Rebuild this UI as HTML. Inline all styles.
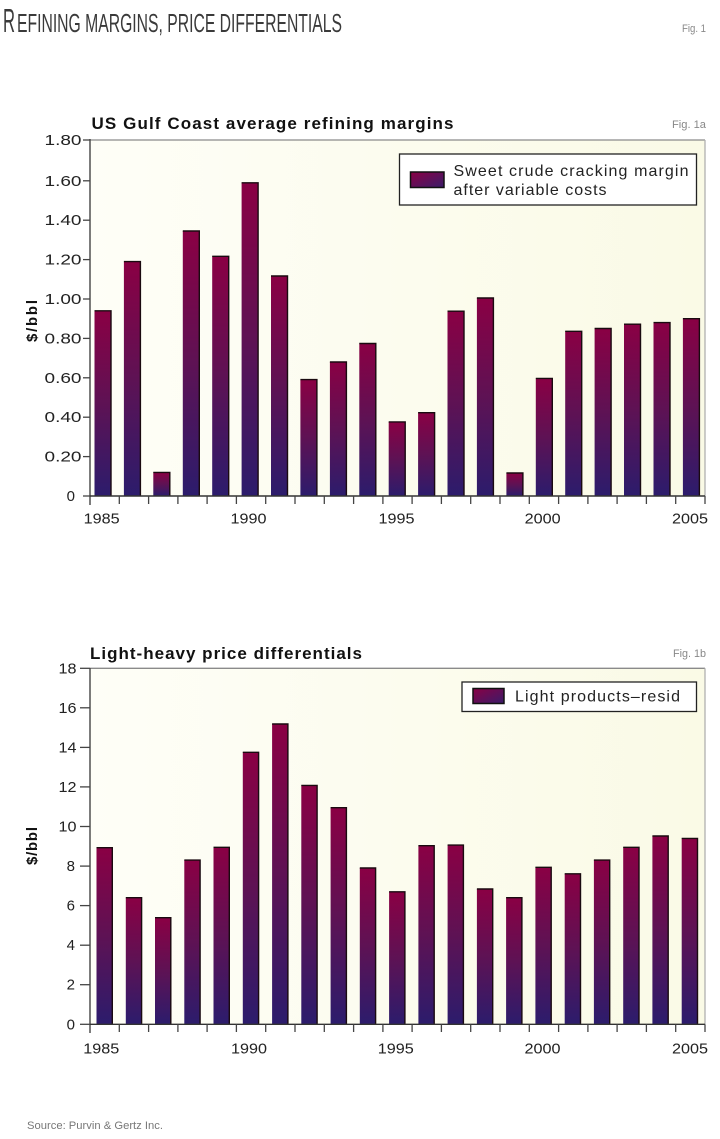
<!DOCTYPE html>
<html><head><meta charset="utf-8"><style>
html,body{margin:0;padding:0;background:#fff;}
svg{display:block;}
text{font-family:"Liberation Sans",Arial,sans-serif;}
</style></head><body>
<svg width="720" height="1139" viewBox="0 0 720 1139" xmlns="http://www.w3.org/2000/svg">
<defs>
<linearGradient id="bar" x1="0" y1="0" x2="0" y2="1">
<stop offset="0" stop-color="#8a0044"/>
<stop offset="0.5" stop-color="#5e1254"/>
<stop offset="1" stop-color="#2c1c6c"/>
</linearGradient>
<linearGradient id="sw" x1="0" y1="0" x2="1" y2="1">
<stop offset="0" stop-color="#8a0044"/>
<stop offset="1" stop-color="#3a1c6a"/>
</linearGradient>
<linearGradient id="bg" x1="0" y1="0" x2="1" y2="0">
<stop offset="0" stop-color="#fefef7"/>
<stop offset="1" stop-color="#fafae6"/>
</linearGradient>
</defs>

<!-- Main title -->
<text x="3" y="32" font-size="33" fill="#3a3a3a" textLength="12" lengthAdjust="spacingAndGlyphs">R</text>
<text x="17" y="32" font-size="26" fill="#3a3a3a" textLength="325" lengthAdjust="spacingAndGlyphs">EFINING MARGINS, PRICE DIFFERENTIALS</text>
<text x="682" y="32" font-size="11" fill="#888" textLength="24" lengthAdjust="spacingAndGlyphs">Fig. 1</text>

<!-- ===== Top chart ===== -->
<text x="91.5" y="129" font-size="17" font-weight="bold" fill="#111" textLength="362" lengthAdjust="spacing">US Gulf Coast average refining margins</text>
<text x="672" y="128" font-size="11" fill="#888" textLength="34" lengthAdjust="spacingAndGlyphs">Fig. 1a</text>

<rect x="90" y="140" width="615" height="356" fill="url(#bg)"/>
<line x1="90" y1="140" x2="705" y2="140" stroke="#8a8a8a" stroke-width="1.3"/>
<line x1="705" y1="140" x2="705" y2="496" stroke="#b0b0b0" stroke-width="1.3"/>

<g fill="url(#bar)">
<rect x="94.5" y="310.8" width="16.5" height="185.2"/>
<rect x="123.9" y="261.6" width="16.5" height="234.4"/>
<rect x="153.3" y="472.4" width="16.5" height="23.6"/>
<rect x="182.8" y="231" width="16.5" height="265"/>
<rect x="212.2" y="256.3" width="16.5" height="239.7"/>
<rect x="241.6" y="182.8" width="16.5" height="313.2"/>
<rect x="271.0" y="276" width="16.5" height="220"/>
<rect x="300.4" y="379.6" width="16.5" height="116.4"/>
<rect x="329.9" y="362" width="16.5" height="134"/>
<rect x="359.3" y="343.5" width="16.5" height="152.5"/>
<rect x="388.7" y="421.9" width="16.5" height="74.1"/>
<rect x="418.1" y="412.7" width="16.5" height="83.3"/>
<rect x="447.5" y="311.2" width="16.5" height="184.8"/>
<rect x="476.9" y="298" width="16.5" height="198"/>
<rect x="506.4" y="473" width="16.5" height="23"/>
<rect x="535.8" y="378.4" width="16.5" height="117.6"/>
<rect x="565.2" y="331.3" width="16.5" height="164.7"/>
<rect x="594.6" y="328.5" width="16.5" height="167.5"/>
<rect x="624.0" y="324.2" width="16.5" height="171.8"/>
<rect x="653.5" y="322.6" width="16.5" height="173.4"/>
<rect x="682.9" y="318.7" width="16.5" height="177.3"/>
</g>
<g stroke="#1a0a10" stroke-width="1.4" fill="none">
<polyline points="94.5,310.8 111,310.8 111,496"/>
<polyline points="123.9,261.6 140.4,261.6 140.4,496"/>
<polyline points="153.3,472.4 169.8,472.4 169.8,496"/>
<polyline points="182.8,231 199.3,231 199.3,496"/>
<polyline points="212.2,256.3 228.7,256.3 228.7,496"/>
<polyline points="241.6,182.8 258.1,182.8 258.1,496"/>
<polyline points="271.0,276 287.5,276 287.5,496"/>
<polyline points="300.4,379.6 316.9,379.6 316.9,496"/>
<polyline points="329.9,362 346.4,362 346.4,496"/>
<polyline points="359.3,343.5 375.8,343.5 375.8,496"/>
<polyline points="388.7,421.9 405.2,421.9 405.2,496"/>
<polyline points="418.1,412.7 434.6,412.7 434.6,496"/>
<polyline points="447.5,311.2 464,311.2 464,496"/>
<polyline points="476.9,298 493.4,298 493.4,496"/>
<polyline points="506.4,473 522.9,473 522.9,496"/>
<polyline points="535.8,378.4 552.3,378.4 552.3,496"/>
<polyline points="565.2,331.3 581.7,331.3 581.7,496"/>
<polyline points="594.6,328.5 611.1,328.5 611.1,496"/>
<polyline points="624.0,324.2 640.5,324.2 640.5,496"/>
<polyline points="653.5,322.6 670,322.6 670,496"/>
<polyline points="682.9,318.7 699.4,318.7 699.4,496"/>
</g>

<!-- axes top -->
<line x1="90" y1="139" x2="90" y2="505" stroke="#444" stroke-width="1.4"/>
<line x1="90" y1="496" x2="705" y2="496" stroke="#333" stroke-width="1.4"/>
<g stroke="#444" stroke-width="1.3">
<line x1="83" y1="496" x2="90" y2="496"/>
<line x1="83" y1="456.6" x2="90" y2="456.6"/>
<line x1="83" y1="417.2" x2="90" y2="417.2"/>
<line x1="83" y1="377.8" x2="90" y2="377.8"/>
<line x1="83" y1="338.4" x2="90" y2="338.4"/>
<line x1="83" y1="299" x2="90" y2="299"/>
<line x1="83" y1="259.6" x2="90" y2="259.6"/>
<line x1="83" y1="220.2" x2="90" y2="220.2"/>
<line x1="83" y1="180.8" x2="90" y2="180.8"/>
<line x1="83" y1="140" x2="90" y2="140"/>
</g>
<g stroke="#444" stroke-width="1.3">
<line x1="119.3" y1="496" x2="119.3" y2="504"/>
<line x1="148.6" y1="496" x2="148.6" y2="504"/>
<line x1="177.9" y1="496" x2="177.9" y2="504"/>
<line x1="207.1" y1="496" x2="207.1" y2="504"/>
<line x1="236.4" y1="496" x2="236.4" y2="504"/>
<line x1="265.7" y1="496" x2="265.7" y2="504"/>
<line x1="295" y1="496" x2="295" y2="504"/>
<line x1="324.3" y1="496" x2="324.3" y2="504"/>
<line x1="353.6" y1="496" x2="353.6" y2="504"/>
<line x1="382.9" y1="496" x2="382.9" y2="504"/>
<line x1="412.1" y1="496" x2="412.1" y2="504"/>
<line x1="441.4" y1="496" x2="441.4" y2="504"/>
<line x1="470.7" y1="496" x2="470.7" y2="504"/>
<line x1="500" y1="496" x2="500" y2="504"/>
<line x1="529.3" y1="496" x2="529.3" y2="504"/>
<line x1="558.6" y1="496" x2="558.6" y2="504"/>
<line x1="587.9" y1="496" x2="587.9" y2="504"/>
<line x1="617.1" y1="496" x2="617.1" y2="504"/>
<line x1="646.4" y1="496" x2="646.4" y2="504"/>
<line x1="675.7" y1="496" x2="675.7" y2="504"/>
<line x1="705" y1="496" x2="705" y2="504"/>
</g>
<g font-size="15" fill="#222" text-anchor="end">
<text x="75" y="501">0</text>
<text x="81.5" y="461.6" textLength="37" lengthAdjust="spacingAndGlyphs">0.20</text>
<text x="81.5" y="422.2" textLength="37" lengthAdjust="spacingAndGlyphs">0.40</text>
<text x="81.5" y="382.8" textLength="37" lengthAdjust="spacingAndGlyphs">0.60</text>
<text x="81.5" y="343.4" textLength="37" lengthAdjust="spacingAndGlyphs">0.80</text>
<text x="81.5" y="304" textLength="37" lengthAdjust="spacingAndGlyphs">1.00</text>
<text x="81.5" y="264.6" textLength="37" lengthAdjust="spacingAndGlyphs">1.20</text>
<text x="81.5" y="225.2" textLength="37" lengthAdjust="spacingAndGlyphs">1.40</text>
<text x="81.5" y="185.8" textLength="37" lengthAdjust="spacingAndGlyphs">1.60</text>
<text x="81.5" y="145" textLength="37" lengthAdjust="spacingAndGlyphs">1.80</text>
</g>
<g font-size="15" fill="#222" text-anchor="middle">
<text x="101.7" y="523.5" textLength="36" lengthAdjust="spacingAndGlyphs">1985</text>
<text x="248.5" y="523.5" textLength="36" lengthAdjust="spacingAndGlyphs">1990</text>
<text x="396.5" y="523.5" textLength="36" lengthAdjust="spacingAndGlyphs">1995</text>
<text x="542.7" y="523.5" textLength="36" lengthAdjust="spacingAndGlyphs">2000</text>
<text x="690" y="523.5" textLength="36" lengthAdjust="spacingAndGlyphs">2005</text>
</g>
<text transform="translate(37,321) rotate(-90)" font-size="15" font-weight="bold" fill="#111" text-anchor="middle" textLength="42" lengthAdjust="spacing">$/bbl</text>

<!-- legend top -->
<rect x="399.5" y="154" width="297" height="51" fill="#fff" stroke="#222" stroke-width="1.3"/>
<rect x="410.5" y="172" width="33.5" height="15.5" fill="url(#sw)" stroke="#111" stroke-width="1.5"/>
<text x="453.5" y="176" font-size="16" fill="#222" textLength="235" lengthAdjust="spacing">Sweet crude cracking margin</text>
<text x="453.5" y="195" font-size="16" fill="#222" textLength="153" lengthAdjust="spacing">after variable costs</text>

<!-- ===== Bottom chart ===== -->
<text x="90" y="659" font-size="17" font-weight="bold" fill="#111" textLength="272" lengthAdjust="spacing">Light-heavy price differentials</text>
<text x="673" y="657" font-size="11" fill="#888" textLength="33" lengthAdjust="spacingAndGlyphs">Fig. 1b</text>

<rect x="90" y="668.3" width="615" height="356" fill="url(#bg)"/>
<line x1="90" y1="668.3" x2="705" y2="668.3" stroke="#8a8a8a" stroke-width="1.3"/>
<line x1="705" y1="668.3" x2="705" y2="1024.3" stroke="#b0b0b0" stroke-width="1.3"/>

<g fill="url(#bar)">
<rect x="96.5" y="847.7" width="15.8" height="176.6"/>
<rect x="125.8" y="897.7" width="15.8" height="126.6"/>
<rect x="155.0" y="917.7" width="15.8" height="106.6"/>
<rect x="184.3" y="860.1" width="15.8" height="164.2"/>
<rect x="213.5" y="847.3" width="15.8" height="177"/>
<rect x="242.8" y="752.3" width="15.8" height="272"/>
<rect x="272.1" y="724" width="15.8" height="300.3"/>
<rect x="301.3" y="785.4" width="15.8" height="238.9"/>
<rect x="330.6" y="807.7" width="15.8" height="216.6"/>
<rect x="359.8" y="868" width="15.8" height="156.3"/>
<rect x="389.1" y="891.8" width="15.8" height="132.5"/>
<rect x="418.4" y="845.7" width="15.8" height="178.6"/>
<rect x="447.6" y="845.1" width="15.8" height="179.2"/>
<rect x="476.9" y="889" width="15.8" height="135.3"/>
<rect x="506.1" y="897.7" width="15.8" height="126.6"/>
<rect x="535.4" y="867.3" width="15.8" height="157"/>
<rect x="564.7" y="873.8" width="15.8" height="150.5"/>
<rect x="593.9" y="860.1" width="15.8" height="164.2"/>
<rect x="623.2" y="847.3" width="15.8" height="177"/>
<rect x="652.4" y="836" width="15.8" height="188.3"/>
<rect x="681.7" y="838.4" width="15.8" height="185.9"/>
</g>
<g stroke="#1a0a10" stroke-width="1.4" fill="none">
<polyline points="96.5,847.7 112.3,847.7 112.3,1024.3"/>
<polyline points="125.8,897.7 141.6,897.7 141.6,1024.3"/>
<polyline points="155.0,917.7 170.8,917.7 170.8,1024.3"/>
<polyline points="184.3,860.1 200.1,860.1 200.1,1024.3"/>
<polyline points="213.5,847.3 229.3,847.3 229.3,1024.3"/>
<polyline points="242.8,752.3 258.6,752.3 258.6,1024.3"/>
<polyline points="272.1,724 287.9,724 287.9,1024.3"/>
<polyline points="301.3,785.4 317.1,785.4 317.1,1024.3"/>
<polyline points="330.6,807.7 346.4,807.7 346.4,1024.3"/>
<polyline points="359.8,868 375.6,868 375.6,1024.3"/>
<polyline points="389.1,891.8 404.9,891.8 404.9,1024.3"/>
<polyline points="418.4,845.7 434.2,845.7 434.2,1024.3"/>
<polyline points="447.6,845.1 463.4,845.1 463.4,1024.3"/>
<polyline points="476.9,889 492.7,889 492.7,1024.3"/>
<polyline points="506.1,897.7 521.9,897.7 521.9,1024.3"/>
<polyline points="535.4,867.3 551.2,867.3 551.2,1024.3"/>
<polyline points="564.7,873.8 580.5,873.8 580.5,1024.3"/>
<polyline points="593.9,860.1 609.7,860.1 609.7,1024.3"/>
<polyline points="623.2,847.3 639,847.3 639,1024.3"/>
<polyline points="652.4,836 668.2,836 668.2,1024.3"/>
<polyline points="681.7,838.4 697.5,838.4 697.5,1024.3"/>
</g>

<line x1="90" y1="668" x2="90" y2="1033" stroke="#444" stroke-width="1.4"/>
<line x1="90" y1="1024.3" x2="705" y2="1024.3" stroke="#333" stroke-width="1.4"/>
<g stroke="#444" stroke-width="1.3">
<line x1="80" y1="1024.3" x2="90" y2="1024.3"/>
<line x1="80" y1="984.7" x2="90" y2="984.7"/>
<line x1="80" y1="945.2" x2="90" y2="945.2"/>
<line x1="80" y1="905.6" x2="90" y2="905.6"/>
<line x1="80" y1="866.1" x2="90" y2="866.1"/>
<line x1="80" y1="826.5" x2="90" y2="826.5"/>
<line x1="80" y1="786.9" x2="90" y2="786.9"/>
<line x1="80" y1="747.4" x2="90" y2="747.4"/>
<line x1="80" y1="707.8" x2="90" y2="707.8"/>
<line x1="80" y1="668.3" x2="90" y2="668.3"/>
</g>
<g stroke="#444" stroke-width="1.3">
<line x1="119.3" y1="1024.3" x2="119.3" y2="1032"/>
<line x1="148.6" y1="1024.3" x2="148.6" y2="1032"/>
<line x1="177.9" y1="1024.3" x2="177.9" y2="1032"/>
<line x1="207.1" y1="1024.3" x2="207.1" y2="1032"/>
<line x1="236.4" y1="1024.3" x2="236.4" y2="1032"/>
<line x1="265.7" y1="1024.3" x2="265.7" y2="1032"/>
<line x1="295" y1="1024.3" x2="295" y2="1032"/>
<line x1="324.3" y1="1024.3" x2="324.3" y2="1032"/>
<line x1="353.6" y1="1024.3" x2="353.6" y2="1032"/>
<line x1="382.9" y1="1024.3" x2="382.9" y2="1032"/>
<line x1="412.1" y1="1024.3" x2="412.1" y2="1032"/>
<line x1="441.4" y1="1024.3" x2="441.4" y2="1032"/>
<line x1="470.7" y1="1024.3" x2="470.7" y2="1032"/>
<line x1="500" y1="1024.3" x2="500" y2="1032"/>
<line x1="529.3" y1="1024.3" x2="529.3" y2="1032"/>
<line x1="558.6" y1="1024.3" x2="558.6" y2="1032"/>
<line x1="587.9" y1="1024.3" x2="587.9" y2="1032"/>
<line x1="617.1" y1="1024.3" x2="617.1" y2="1032"/>
<line x1="646.4" y1="1024.3" x2="646.4" y2="1032"/>
<line x1="675.7" y1="1024.3" x2="675.7" y2="1032"/>
<line x1="705" y1="1024.3" x2="705" y2="1032"/>
</g>
<g font-size="15" fill="#222" text-anchor="end">
<text x="75" y="1029.3">0</text>
<text x="75" y="989.7">2</text>
<text x="75" y="950.2">4</text>
<text x="75" y="910.6">6</text>
<text x="75" y="871.1">8</text>
<text x="76.5" y="831.5" textLength="18" lengthAdjust="spacingAndGlyphs">10</text>
<text x="76.5" y="791.9" textLength="18" lengthAdjust="spacingAndGlyphs">12</text>
<text x="76.5" y="752.4" textLength="18" lengthAdjust="spacingAndGlyphs">14</text>
<text x="76.5" y="712.8" textLength="18" lengthAdjust="spacingAndGlyphs">16</text>
<text x="76.5" y="673.3" textLength="18" lengthAdjust="spacingAndGlyphs">18</text>
</g>
<g font-size="15" fill="#222" text-anchor="middle">
<text x="101.3" y="1053.5" textLength="36" lengthAdjust="spacingAndGlyphs">1985</text>
<text x="249" y="1053.5" textLength="36" lengthAdjust="spacingAndGlyphs">1990</text>
<text x="395.8" y="1053.5" textLength="36" lengthAdjust="spacingAndGlyphs">1995</text>
<text x="542.5" y="1053.5" textLength="36" lengthAdjust="spacingAndGlyphs">2000</text>
<text x="690" y="1053.5" textLength="36" lengthAdjust="spacingAndGlyphs">2005</text>
</g>
<text transform="translate(37,846) rotate(-90)" font-size="15" font-weight="bold" fill="#111" text-anchor="middle" textLength="38" lengthAdjust="spacing">$/bbl</text>

<!-- legend bottom -->
<rect x="462" y="682" width="234.5" height="29.5" fill="#fff" stroke="#222" stroke-width="1.3"/>
<rect x="473" y="688.5" width="31" height="15" fill="url(#sw)" stroke="#111" stroke-width="1.5"/>
<text x="515" y="701.7" font-size="16" fill="#222" textLength="165" lengthAdjust="spacing">Light products–resid</text>

<!-- source -->
<text x="27" y="1129" font-size="11" fill="#777" textLength="136" lengthAdjust="spacingAndGlyphs">Source: Purvin &amp; Gertz Inc.</text>
</svg>
</body></html>
